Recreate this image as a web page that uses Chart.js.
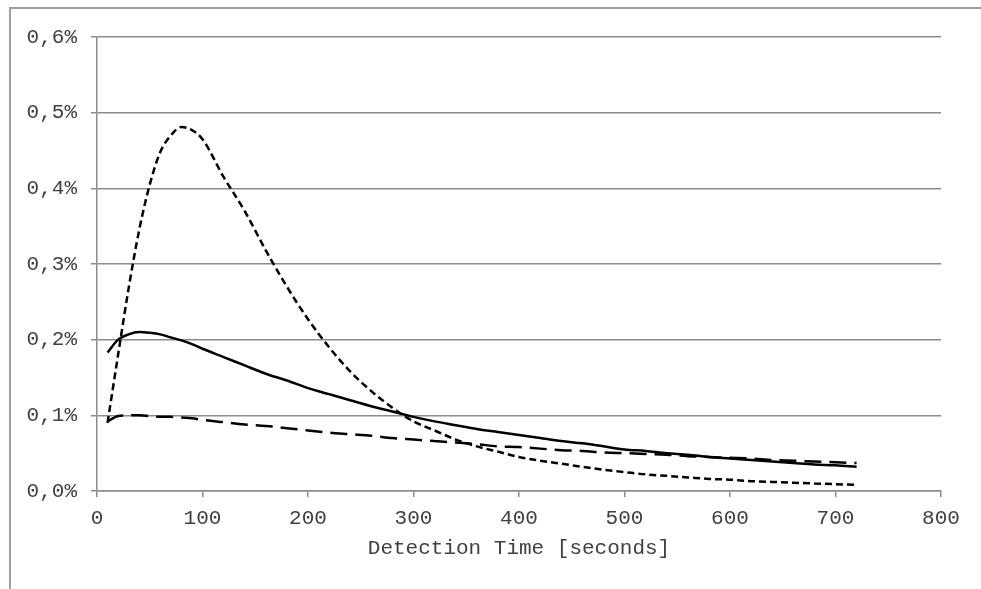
<!DOCTYPE html>
<html>
<head>
<meta charset="utf-8">
<script src="https://cdn.jsdelivr.net/npm/chart.js@4/dist/chart.umd.min.js"></script>
<style>
  html, body { margin: 0; padding: 0; background: #fff; }
  .wrap { position: relative; width: 981px; height: 589px; }
  .frame { position: absolute; left: 9px; top: 7px; right: -2px; bottom: -2px;
           border-left: 2px solid #a0a0a0; border-top: 2px solid #a0a0a0; }
  canvas { position: absolute; left: 0; top: 0; }
</style>
</head>
<body>
<div class="wrap">
  <div class="frame"></div>
  <canvas id="chart" width="981" height="589"></canvas>
</div>
<script>
// data (values in %)
const seconds = [10, 20, 30, 40, 50, 60, 70, 80, 90, 100,
  120, 140, 160, 180, 200, 220, 240, 260, 280, 300,
  320, 340, 360, 380, 400, 420, 440, 460, 480, 500,
  520, 540, 560, 580, 600, 620, 640, 660, 680, 700, 720]

const solidSeries = [0.183, 0.200, 0.207, 0.210, 0.209, 0.207, 0.203, 0.199, 0.194, 0.188,
  0.177, 0.166, 0.155, 0.146, 0.136, 0.128, 0.120, 0.112, 0.105, 0.098,
  0.092, 0.087, 0.082, 0.078, 0.074, 0.070, 0.066, 0.063, 0.059, 0.055,
  0.053, 0.050, 0.048, 0.045, 0.043, 0.041, 0.039, 0.037, 0.035, 0.034, 0.032]

const longDashSeries = [0.092, 0.099, 0.100, 0.100, 0.099, 0.098, 0.098, 0.097, 0.096, 0.094,
  0.091, 0.088, 0.086, 0.083, 0.080, 0.077, 0.075, 0.073, 0.070, 0.068,
  0.066, 0.064, 0.062, 0.059, 0.058, 0.056, 0.054, 0.053, 0.051, 0.050,
  0.049, 0.048, 0.046, 0.045, 0.044, 0.043, 0.041, 0.040, 0.039, 0.038, 0.037]

const shortDashSeries = [0.090, 0.180, 0.268, 0.345, 0.405, 0.448, 0.470, 0.481, 0.477, 0.465,
  0.415, 0.370, 0.318, 0.270, 0.227, 0.190, 0.158, 0.132, 0.110, 0.092,
  0.080, 0.068, 0.059, 0.052, 0.045, 0.040, 0.036, 0.032, 0.028, 0.025,
  0.022, 0.020, 0.018, 0.016, 0.015, 0.013, 0.012, 0.011, 0.010, 0.009, 0.008]

const xTitle = 'Detection Time [seconds]'

// helpers
const toPoints = (values) => seconds.map((s, i) => ({ x: s, y: values[i] }))

const lineStyle = (values, dash) => ({
  data: toPoints(values),
  borderColor: '#000',
  borderWidth: 2.5,
  borderDash: dash,
  pointRadius: 0,
  cubicInterpolationMode: 'monotone',
  fill: false,
})

const gridGray = '#8c8c8c'
const textGray = '#404040'
const font = { family: "'Liberation Mono', 'Courier New', monospace", size: 21 }

// chart
const chartElem = document.querySelector('#chart')

new Chart(chartElem, {
  type: 'line',
  data: {
    datasets: [
      lineStyle(solidSeries, []),
      lineStyle(longDashSeries, [17, 8]),
      lineStyle(shortDashSeries, [7, 4]),
    ],
  },
  options: {
    responsive: false,
    animation: false,
    layout: { padding: { left: 10, top: 37, right: 40, bottom: 24 } },
    plugins: { legend: { display: false }, tooltip: { enabled: false } },
    scales: {
      x: {
        type: 'linear',
        min: 0,
        max: 800,
        ticks: { stepSize: 100, color: textGray, font: font, padding: 9, maxRotation: 0 },
        grid: { drawOnChartArea: false, drawTicks: true, tickLength: 6, color: gridGray, lineWidth: 1.5 },
        border: { display: true, color: gridGray, width: 1.5 },
        title: { display: true, text: xTitle, color: textGray, font: font, padding: { top: 4 } },
        afterFit: (scale) => { scale.height = 74 },
      },
      y: {
        min: 0,
        max: 0.6,
        ticks: {
          stepSize: 0.1,
          color: textGray,
          font: font,
          padding: 14,
          callback: (v) => v.toFixed(1).replace('.', ',') + '%',
        },
        grid: { color: gridGray, lineWidth: 1.5, tickLength: 6 },
        border: { display: true, color: gridGray, width: 1.5 },
        afterFit: (scale) => { scale.width = 87 },
      },
    },
  },
})
</script>
</body>
</html>
